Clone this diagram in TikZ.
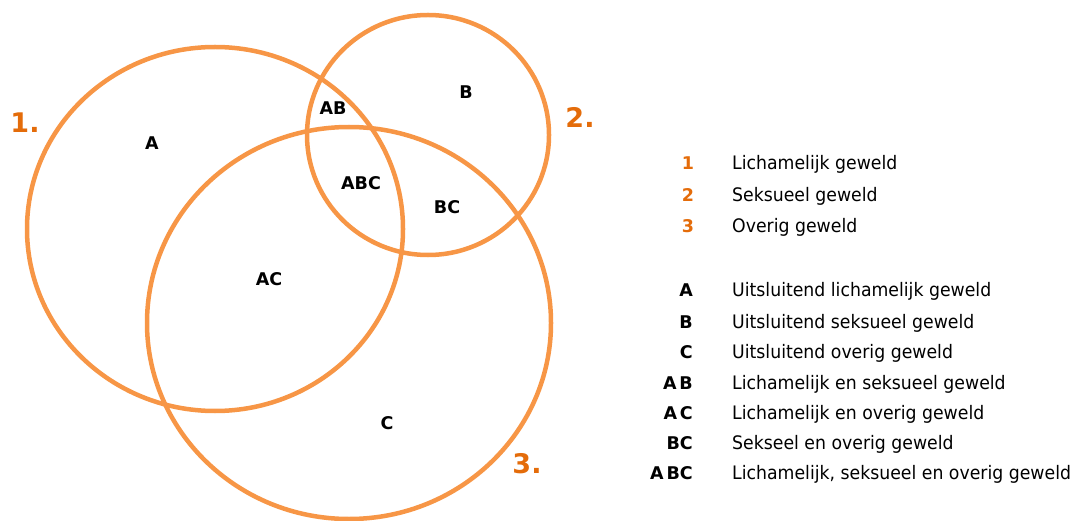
\documentclass[tikz,border=0pt]{standalone}
\usepackage{fontspec}
\setmainfont{DejaVu Sans}
\newfontfamily\legfont[FakeStretch=0.93]{DejaVu Sans}
\definecolor{ring}{HTML}{F79646}
\definecolor{num}{HTML}{E46C0A}
\begin{document}
\begin{tikzpicture}[x=1pt,y=-1pt,
  ringline/.style={draw=ring,line width=4.5pt},
  reg/.style={font=\fontsize{17.5}{20}\selectfont\bfseries,inner sep=0pt,anchor=base},
  setnum/.style={font=\fontsize{27}{30}\selectfont\bfseries,text=num,inner sep=0pt,anchor=base},
  legnum/.style={font=\fontsize{17.5}{20}\selectfont\bfseries,text=num,inner sep=0pt,anchor=base},
  legkey/.style={font=\fontsize{17.5}{20}\selectfont\bfseries,inner sep=0pt,anchor=base east},
  legtxt/.style={font=\legfont\fontsize{18.6}{20}\selectfont,inner sep=0pt,anchor=base west}]
\useasboundingbox (0,0) rectangle (1075,521);
% circles
\draw[ringline] (215,229) ellipse [x radius=188, y radius=182];
\draw[ringline] (428,135) ellipse [x radius=121, y radius=120];
\draw[ringline] (349,323) ellipse [x radius=202, y radius=196];
% set numbers
\node[setnum] (n1) at (25,133) {1.};
\node[setnum] (n2) at (580,128) {2.};
\node[setnum] (n3) at (527,473) {3.};
% region labels
\node[reg] (rA) at (152,149.5) {A};
\node[reg] (rAB) at (333,114.5) {AB};
\node[reg] (rB) at (466,98.5) {B};
\node[reg] (rABC) at (361,189.5) {ABC};
\node[reg] (rBC) at (447,213.5) {BC};
\node[reg] (rAC) at (269,285.5) {AC};
\node[reg] (rC) at (387,429.5) {C};
% legend 1
\node[legnum] (l1) at (688,170) {1};
\node[legnum] (l2) at (688,202) {2};
\node[legnum] (l3) at (688,233) {3};
\node[legtxt] (t1) at (732,170) {Lichamelijk geweld};
\node[legtxt] (t2) at (732,202) {Seksueel geweld};
\node[legtxt] (t3) at (732,233) {Overig geweld};
% legend 2
\node[legkey] (kA) at (693,296) {A};
\node[legkey] (kB) at (693,328) {B};
\node[legkey] (kC) at (693,358) {C};
\node[legkey] (kAB) at (693,389) {A\,B};
\node[legkey] (kAC) at (693,419) {A\,C};
\node[legkey] (kBC) at (693,449) {BC};
\node[legkey] (kABC) at (693,479) {A\,BC};
\node[legtxt] (sA) at (732,296) {Uitsluitend lichamelijk geweld};
\node[legtxt] (sB) at (732,328) {Uitsluitend seksueel geweld};
\node[legtxt] (sC) at (732,358) {Uitsluitend overig geweld};
\node[legtxt] (sAB) at (732,389) {Lichamelijk en seksueel geweld};
\node[legtxt] (sAC) at (732,419) {Lichamelijk en overig geweld};
\node[legtxt] (sBC) at (732,449) {Sekseel en overig geweld};
\node[legtxt] (sABC) at (732,479) {Lichamelijk, seksueel en overig geweld};
\end{tikzpicture}
\end{document}
